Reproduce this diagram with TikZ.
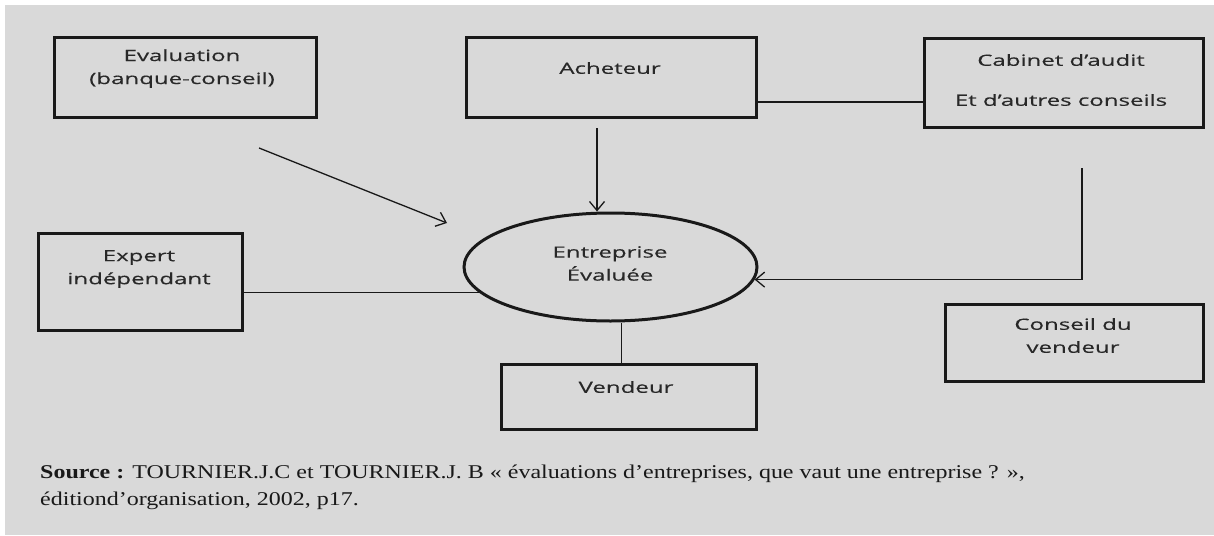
\documentclass[tikz,border=0pt]{standalone}
\usepackage{fontspec}
\setmainfont{Liberation Serif}
\newfontfamily\boxfont[FakeStretch=1.55,FakeBold=0.3]{Open Sans}
\newfontfamily\srcfont[FakeStretch=1.23]{Liberation Serif}
\usetikzlibrary{arrows.meta,shapes.geometric,calc}
\definecolor{bg}{RGB}{217,217,217}
\definecolor{ink}{RGB}{25,25,25}
\definecolor{txt}{RGB}{40,40,40}
\tikzset{
  box/.style={draw=ink, line width=3pt, inner sep=0pt},
  lbl/.style={font=\boxfont\fontsize{15.5}{23}\selectfont, text=txt, align=center, inner sep=0pt},
  conn/.style={draw=ink, line width=1.3pt},
  arr/.style={conn, -{Straight Barb[length=9pt,width=15pt]}},
  src/.style={font=\srcfont\fontsize{19.5}{27}\selectfont, text=ink, inner sep=0pt, anchor=base west}
}
\begin{document}
\begin{tikzpicture}[x=1pt,y=-1pt]
\fill[white] (0,0) rectangle (1214,535);
\fill[bg] (5,5) rectangle (1214,535);
\useasboundingbox (0,0) rectangle (1214,535);

% boxes
\node[box, minimum width=262pt, minimum height=79pt] (eval) at (185,77.5) {};
\node[box, minimum width=290pt, minimum height=79pt] (ach) at (611,77.5) {};
\node[box, minimum width=279pt, minimum height=88pt] (cab) at (1063.5,83) {};
\node[box, minimum width=204pt, minimum height=97pt] (exp) at (140,281.5) {};
\node[box, minimum width=255pt, minimum height=65pt] (ven) at (628.5,396.5) {};
\node[box, minimum width=258pt, minimum height=77pt] (cons) at (1074,342.5) {};
\node[box, ellipse, minimum width=293pt, minimum height=108pt] (ell) at (610.5,267) {};

% labels
\node[lbl] (evalT) at (182,68.5) {Evaluation\\(banque-conseil)};
\node[lbl] (achT) at (610,68) {Acheteur};
\node[lbl] (cabT) at (1061,80) {Cabinet d’audit\\[17pt]Et d’autres conseils};
\node[lbl] (expT) at (139,269) {Expert\\indépendant};
\node[lbl] (ellT) at (610,263.5) {Entreprise\\Évaluée};
\node[lbl] (venT) at (626,387) {Vendeur};
\node[lbl] (consT) at (1073,335.5) {Conseil du\\vendeur};

% connectors
\coordinate (l1) at (700,102);
\draw[conn] (l1 -| ach.east) -- (l1 -| cab.west);

\coordinate (achS) at (597,128);
\draw[arr] (achS) -- (achS |- ell.north);

\coordinate (evS) at (259,148);
\coordinate (evE) at (447,223);
\draw[arr] (evS) -- (evE);

\coordinate (cabS) at (1082,168);
\draw[arr] (cabS) |- (ell.-5.65);

\draw[conn] (exp.east |- ell.191.4) -- (ell.191.4);

\coordinate (vx) at (621.5,0);
\draw[conn] (vx |- ell.south) -- (vx |- ven.north);

% source
\node[src] (src1) at (40,478) {\textbf{Source :} TOURNIER.J.C et TOURNIER.J. B « évaluations d’entreprises, que vaut une entreprise ? »,};
\node[src] (src2) at (40,505) {éditiond’organisation, 2002, p17.};
\end{tikzpicture}
\end{document}
